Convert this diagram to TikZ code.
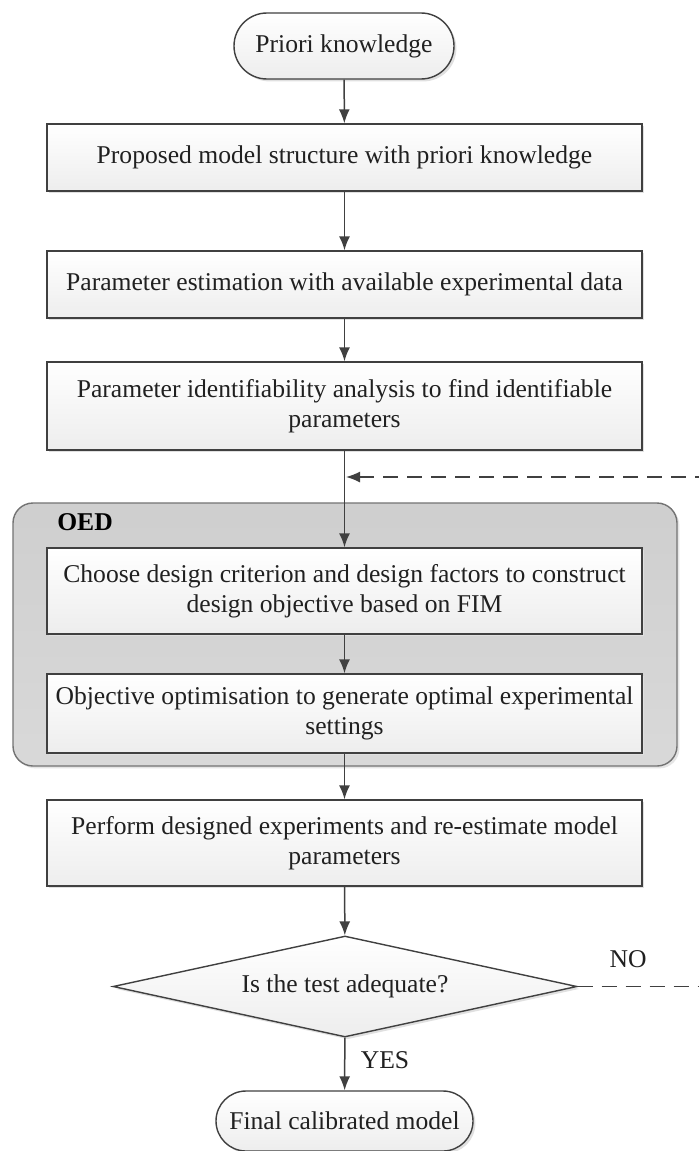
\documentclass[tikz,border=0pt]{standalone}
\usepackage{fontspec}
\setmainfont{Liberation Serif}
\usetikzlibrary{arrows.meta,shapes.geometric,shapes.misc,shadows}
\definecolor{linegray}{HTML}{404040}
\definecolor{textgray}{HTML}{202020}
\tikzset{
  >={Latex[length=7pt,width=5.5pt]},
}
\tikzstyle{every node}=[font=\fontsize{12.8}{15.2}\selectfont,text=textgray]
\tikzstyle{boxed}=[draw=linegray,line width=0.7pt,top color=white,bottom color=black!7,
  drop shadow={shadow xshift=1.2pt,shadow yshift=-1.2pt,fill=black!12,opacity=1}]
\tikzstyle{process}=[boxed,rectangle,minimum width=297.5pt,align=center,inner sep=2pt]
\tikzstyle{terminal}=[boxed,rounded rectangle,inner sep=2pt]
\tikzstyle{decision}=[boxed,diamond,aspect=4.6,inner sep=0pt,minimum width=232pt,minimum height=50.5pt]
\tikzstyle{group}=[draw=black!55,line width=0.7pt,rounded corners=10pt,top color=black!19,bottom color=black!15,
  drop shadow={shadow xshift=1.2pt,shadow yshift=-1.2pt,fill=black!10,opacity=1}]
\tikzstyle{flow}=[draw=linegray,line width=0.75pt,->]
\tikzstyle{feedback}=[flow,dash pattern=on 7.5pt off 4.5pt]

\begin{document}
\begin{tikzpicture}[x=0.5pt,y=-0.5pt]
    \clip (0,0) rectangle (699,1151);
    \fill[white] (0,0) rectangle (699,1151);
    % OED group behind its two steps
    \node[group,minimum width=332pt,minimum height=131.5pt] (oed) at (345,634.5) {};
    \node[font=\fontsize{12.8}{15.2}\selectfont\bfseries,text=black] (oedlabel) at (85,522) {OED};
    % main steps
    \node[terminal,minimum width=114pt,minimum height=33pt] (start) at (344,46) {Priori knowledge};
    \node[process,minimum height=33.5pt] (model) at (344.5,157.5) {Proposed model structure with priori knowledge};
    \node[process,minimum height=33.5pt] (estim) at (344.5,284.5) {Parameter estimation with available experimental data};
    \node[process,minimum height=44pt] (ident) at (344.5,406) {Parameter identifiability analysis to find identifiable\\parameters};
    \node[process,minimum height=43pt] (crit) at (344.5,591) {Choose design criterion and design factors to construct\\design objective based on FIM};
    \node[process,minimum height=39.5pt] (optim) at (344.5,713.5) {Objective optimisation to generate optimal experimental\\settings};
    \node[process,minimum height=43pt] (perform) at (344.5,843) {Perform designed experiments and re-estimate model\\parameters};
    \node[decision] (test) at (345,986.5) {Is the test adequate?};
    \node[terminal,minimum width=132.5pt,minimum height=30pt] (final) at (344.5,1121) {Final calibrated model};
    \node (no) at (628,959) {NO};
    \node (yes) at (385,1060) {YES};
    % connectors
    \draw[flow] (start) -- (model);
    \draw[flow] (model) -- (estim);
    \draw[flow] (estim) -- (ident);
    \draw[flow] (ident) -- (crit);
    \draw[flow] (crit) -- (optim);
    \draw[flow] (optim) -- (perform);
    \draw[flow] (perform) -- (test);
    \draw[flow] (test) -- (final);
    % loop back when the test fails
    \coordinate (fbcorner) at (725,986.5);
    \coordinate (fbtop) at (725,477);
    \coordinate (merge) at (346,477);
    \draw[feedback] (test.east) -- (fbcorner) -- (fbtop) -- (merge);
\end{tikzpicture}
\end{document}
